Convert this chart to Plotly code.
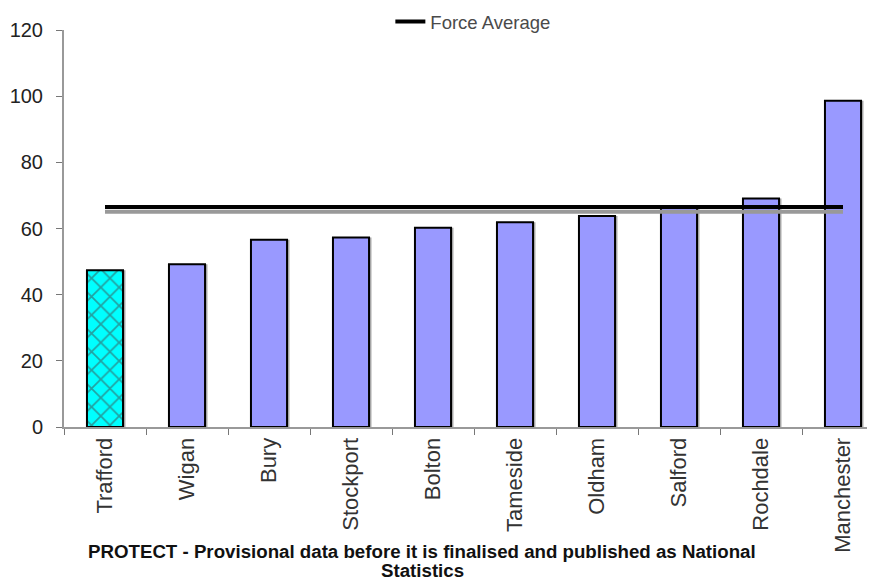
import plotly.graph_objects as go

areas = ["Trafford", "Wigan", "Bury", "Stockport", "Bolton", "Tameside",
         "Oldham", "Salford", "Rochdale", "Manchester"]
rates = [47.4, 49.2, 56.6, 57.3, 60.2, 61.9, 63.8, 66.8, 69.1, 98.6]
force_average = 66.5
y_ticks = [0, 20, 40, 60, 80, 100, 120]

footer_lines = ["PROTECT - Provisional data before it is finalised and published as National",
                "Statistics"]

highlight = "Trafford"
bar_colors = ["#00FFFF" if a == highlight else "#9999FF" for a in areas]
pattern_shapes = ["x" if a == highlight else "" for a in areas]

fig = go.Figure()

# bar shadows
fig.add_trace(go.Bar(
    x=areas, y=rates, width=0.44, offset=-0.19,
    marker=dict(color="rgba(90,90,90,0.5)", line=dict(width=0)),
    showlegend=False, hoverinfo="skip",
))
fig.add_trace(go.Bar(
    x=areas, y=rates, width=0.44, offset=-0.22,
    marker=dict(
        color=bar_colors,
        line=dict(color="#000000", width=2),
        pattern=dict(shape=pattern_shapes, fgcolor="#007B7B",
                     bgcolor="#00FFFF", size=13, solidity=0.25),
    ),
    showlegend=False,
))

# line shadow
fig.add_trace(go.Scatter(
    x=areas, y=[force_average - 1.4] * len(areas), mode="lines",
    line=dict(color="#999999", width=4), showlegend=False, hoverinfo="skip",
))
fig.add_trace(go.Scatter(
    x=areas, y=[force_average] * len(areas), mode="lines",
    name="Force Average", line=dict(color="#000000", width=4),
))

footer_y = [-0.314, -0.362]
annotations = [dict(
    text=t, xref="paper", yref="paper", x=(422 - 64) / 820, y=yy,
    xanchor="center", yanchor="middle", showarrow=False,
    font=dict(family="Liberation Sans, Arial, sans-serif", size=18.7,
              color="#111111", weight="bold"),
) for t, yy in zip(footer_lines, footer_y)]

fig.update_layout(
    width=876, height=577,
    margin=dict(l=56, r=0, t=22, b=158, autoexpand=False),
    paper_bgcolor="white", plot_bgcolor="white",
    barmode="overlay",
    font=dict(family="Liberation Sans, Arial, sans-serif", color="#222222"),
    showlegend=True,
    legend=dict(orientation="h", x=0.398, xanchor="left",
                y=1 - 14 / 577, yref="container", yanchor="middle",
                font=dict(size=18.5, color="#4a4a4a"),
                bgcolor="rgba(0,0,0,0)", itemwidth=30),
    xaxis=dict(
        range=[-0.5, 9.5], showgrid=False, automargin=False,
        showline=True, linecolor="#999999", linewidth=2,
        ticks="outside", tickson="boundaries", ticklen=6, tickcolor="#777777",
        tickangle=-90, tickfont=dict(size=22, color="#333333"),
    ),
    yaxis=dict(
        range=[0, 120], tickvals=y_ticks, showgrid=False, zeroline=False,
        showline=True, linecolor="#999999", linewidth=2, automargin=False,
        ticks="outside", ticklen=6, tickcolor="#777777", ticklabelstandoff=9,
        tickfont=dict(size=20, color="#222222"),
    ),
    annotations=annotations,
)

fig.write_html("out.html")
